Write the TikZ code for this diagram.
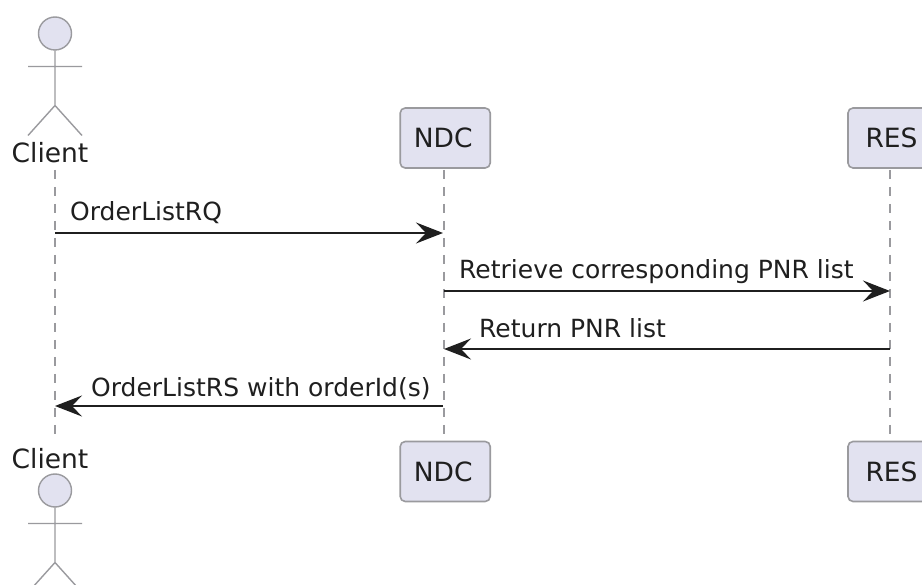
\documentclass[tikz,border=0pt]{standalone}
\usepackage{fontspec}
\setmainfont{DejaVu Sans}
\usetikzlibrary{arrows.meta}
\definecolor{pfill}{HTML}{E2E2F0}
\definecolor{pline}{HTML}{9A9A9E}
\definecolor{ink}{HTML}{1F1F1F}
\tikzset{
  x=1pt,y=-1pt,
  actorline/.style={draw=pline,line width=1.4pt},
  actorhead/.style={draw=pline,fill=pfill,line width=1.4pt},
  partbox/.style={draw=pline,fill=pfill,line width=1.6pt,rounded corners=5pt,minimum width=90pt,minimum height=60pt,inner sep=0pt,text=ink,font=\fontsize{26.5}{26.5}\selectfont},
  partname/.style={text=ink,inner sep=0pt,anchor=base,font=\fontsize{26.5}{26.5}\selectfont},
  lifeline/.style={draw=pline,line width=1.4pt,dash pattern=on 9pt off 8pt},
  msg/.style={draw=ink,line width=1.5pt,-{Stealth[length=27pt,width=21pt,inset=10pt]}},
  msglabel/.style={text=ink,inner sep=0pt,anchor=base west,font=\fontsize{25}{25}\selectfont},
}
\newcommand{\stickman}[2]{%
  \draw[actorline] (#1,#2+17) -- (#1,#2+72) (#1-27,#2+33) -- (#1+27,#2+33) (#1-27,#2+102) -- (#1,#2+72) -- (#1+27,#2+102);
  \draw[actorhead] (#1,#2) circle[radius=16.5];
}
\begin{document}
\begin{tikzpicture}
\useasboundingbox (0,0) rectangle (922,585);
\clip (0,0) rectangle (922,585);
\fill[white] (0,0) rectangle (922,585);
% lifeline ends
\coordinate (cTop) at (55,170);
\coordinate (cBot) at (55,441);
\coordinate (nTop) at (444,170);
\coordinate (nBot) at (444,441);
\coordinate (rTop) at (890,170);
\coordinate (rBot) at (890,441);
\draw[lifeline] (cTop) -- (cBot);
\draw[lifeline] (nTop) -- (nBot);
\draw[lifeline] (rTop) -- (rBot);
% participants
\stickman{55}{33.5}
\stickman{55}{490.5}
\node[partname] (clientTop) at (50,163) {Client};
\node[partname] (clientBot) at (50,468) {Client};
\node[partbox] (ndcTop) at (445.2,138) {\hspace*{-4pt}NDC};
\node[partbox] (ndcBot) at (445.2,471.5) {\hspace*{-4pt}NDC};
\node[partbox] (resTop) at (893,138) {\hspace*{-3pt}RES};
\node[partbox] (resBot) at (893,471.5) {\hspace*{-3pt}RES};
% messages
\coordinate (m1a) at (55,233);
\coordinate (m1b) at (443,233);
\coordinate (m2a) at (444,291);
\coordinate (m2b) at (890,291);
\coordinate (m3a) at (890,349);
\coordinate (m3b) at (444,349);
\coordinate (m4a) at (443,406);
\coordinate (m4b) at (55,406);
\draw[msg] (m1a) -- (m1b);
\draw[msg] (m2a) -- (m2b);
\draw[msg] (m3a) -- (m3b);
\draw[msg] (m4a) -- (m4b);
\node[msglabel] (l1) at (70,221) {OrderListRQ};
\node[msglabel] (l2) at (459,279) {Retrieve corresponding PNR list};
\node[msglabel] (l3) at (479,338) {Return PNR list};
\node[msglabel] (l4) at (91,397) {OrderListRS with orderId(s)};
\end{tikzpicture}
\end{document}
